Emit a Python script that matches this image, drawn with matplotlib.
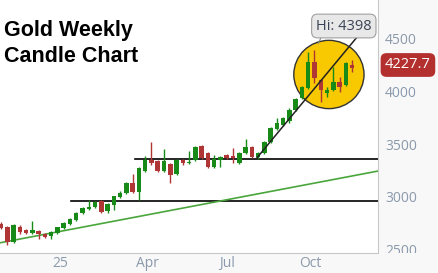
import matplotlib.pyplot as plt
from matplotlib.patches import Ellipse
from matplotlib.transforms import Bbox
import numpy as np

# weekly OHLC
opens = [2740, 2710, 2567, 2710, 2682, 2653, 2672, 2644, 2625, 2653,
         2701, 2739, 2777, 2843, 2881, 2900, 2958, 2862, 2920, 2996,
         3034, 3129, 3043, 3243, 3348, 3339, 3243, 3310, 3215, 3348,
         3320, 3348, 3481, 3415, 3281, 3348, 3396, 3386, 3320, 3415,
         3472, 3377, 3415, 3520, 3643, 3681, 3719, 3824, 3938, 4034,
         4281, 4110, 3986, 4015, 4091, 4062, 4253]
highs = [2760, 2720, 2735, 2729, 2690, 2767, 2680, 2650, 2672, 2715,
         2760, 2795, 2855, 2900, 2967, 2955, 2965, 2935, 3010, 3053,
         3135, 3215, 3280, 3386, 3519, 3345, 3453, 3320, 3360, 3360,
         3434, 3480, 3490, 3420, 3396, 3385, 3405, 3462, 3420, 3548,
         3480, 3420, 3530, 3660, 3750, 3760, 3843, 3940, 4050, 4380,
         4398, 4120, 4043, 4234, 4138, 4280, 4300]
lows = [2690, 2539, 2560, 2644, 2640, 2645, 2596, 2610, 2600, 2640,
        2690, 2730, 2770, 2835, 2875, 2895, 2840, 2840, 2872, 2986,
        3025, 3035, 2967, 3235, 3300, 3230, 3230, 3129, 3205, 3300,
        3310, 3340, 3355, 3270, 3270, 3281, 3355, 3320, 3310, 3405,
        3365, 3360, 3405, 3510, 3635, 3670, 3700, 3815, 3930, 4025,
        4081, 3900, 3948, 4005, 3995, 4050, 4186]
closes = [2700, 2567, 2729, 2663, 2653, 2682, 2644, 2615, 2663, 2710,
          2748, 2786, 2843, 2891, 2900, 2948, 2853, 2929, 3005, 3034,
          3129, 3043, 3272, 3348, 3320, 3243, 3339, 3205, 3348, 3320,
          3330, 3472, 3367, 3281, 3358, 3377, 3367, 3367, 3415, 3472,
          3377, 3415, 3520, 3653, 3700, 3748, 3824, 3929, 4043, 4281,
          4129, 4015, 4015, 4091, 4043, 4272, 4227.7]

tick_labels = ["25", "Apr", "Jul", "Oct"]
tick_pos = [9.4, 23.3, 36.0, 49.4]

support_lo = 2960
support_hi = 3355
green_trend = [2560, 3243]
black_trend = [3367, 4519]

green = "#188a18"
red = "#b03535"

fig = plt.figure(figsize=(4.38, 2.73), dpi=100)
fig.patch.set_facecolor("#f8f8f8")
ax = fig.add_axes([0, 20 / 273, 378 / 438, 253 / 273])
ax.set_facecolor("white")

x = np.arange(len(opens))
o = np.array(opens)
c = np.array(closes)
cols = [green if cc >= oo else red for oo, cc in zip(o, c)]

xmin, xmax = -0.16, 60.13
ax.set_xlim(xmin, xmax)
ax.set_ylim(2463, 4871)

# highlight circle
ax.add_patch(Ellipse((52.3, 4162), 11.2, 650, facecolor="#f8c800",
                     edgecolor="#333333", lw=1.0, zorder=1))

# horizontal support lines and trendlines
ax.plot([11.2, xmax], [support_lo, support_lo], color="black", lw=1.2, zorder=2)
ax.plot([21.4, xmax], [support_hi, support_hi], color="black", lw=1.2, zorder=2)
ax.plot([xmin, xmax], green_trend, color="#4aa63c", lw=1.2, zorder=2)
ax.plot([40.8, 56.8], black_trend, color="#222222", lw=1.1, zorder=4)

# candles
ax.vlines(x, lows, highs, colors=cols, lw=1.0, zorder=3)
body = np.maximum(np.abs(c - o), 8)
ax.bar(x, body, bottom=np.minimum(o, c), width=0.72, color=cols, zorder=3)

for s in ["top", "left"]:
    ax.spines[s].set_visible(False)
for s in ["right", "bottom"]:
    ax.spines[s].set_color("#c8c8c8")
ax.yaxis.tick_right()
ax.set_yticks([2500, 3000, 3500, 4000, 4500])
ax.set_xticks(tick_pos)
ax.set_xticklabels(tick_labels)
ax.tick_params(length=0, colors="#8a99ab", labelsize=10, pad=5)
ax.tick_params(axis="x", pad=2)
for lab in ax.get_xticklabels() + ax.get_yticklabels():
    lab.set_family("Open Sans")
clip = Bbox.from_extents(378, 20, 438, 273)
for lab in ax.get_yticklabels():
    lab.set_horizontalalignment("left")
    lab.set_clip_box(clip)
    lab.set_clip_on(True)

# last price badge
fig.text(385 / 438, 1 - 65 / 273, "4227.7", color="white", fontsize=10.5,
         family="Open Sans", va="center", ha="left",
         bbox=dict(boxstyle="round,pad=0.3,rounding_size=0.4",
                   fc="#b3302e", ec="none"))

# high tooltip
ax.plot([50.6, 51.4], [4398 + 60, 4398 + 130 + 30], color="#888888", lw=0.8, zorder=5)
fig.text(316 / 438, 1 - 26 / 273, "Hi: 4398", color="#3b4456", fontsize=10.5,
         family="Open Sans", va="center", ha="left",
         bbox=dict(boxstyle="round,pad=0.3,rounding_size=0.4",
                   fc="#e8e8e8", ec="#a0a0a0", lw=0.8))

fig.text(4 / 438, 1 - 20 / 273, "Gold Weekly\nCandle Chart", fontsize=15.5,
         fontweight="bold", family="Liberation Sans", va="top", ha="left",
         linespacing=1.3)

fig.savefig("out.png", dpi=100, facecolor=fig.get_facecolor())
